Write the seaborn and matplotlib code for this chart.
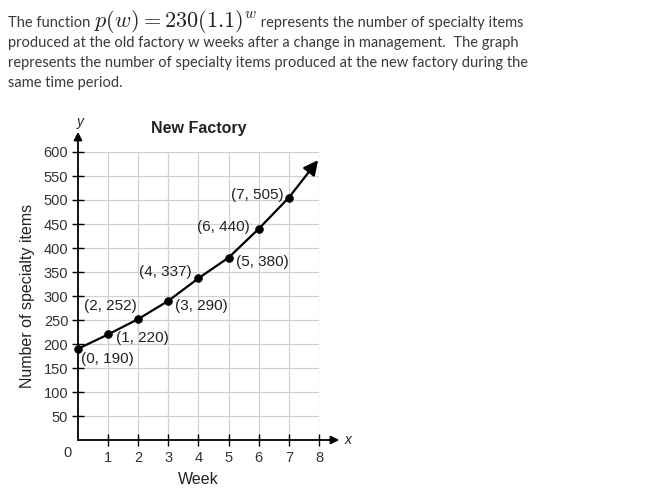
import matplotlib
matplotlib.use("Agg")
import matplotlib.pyplot as plt
import seaborn as sns
import pandas as pd

# data
weeks = [0, 1, 2, 3, 4, 5, 6, 7]
items = [190, 220, 252, 290, 337, 380, 440, 505]
curve_tip = (7.97, 583)
x_ticks = [1, 2, 3, 4, 5, 6, 7, 8]
y_ticks = list(range(50, 601, 50))
# label offsets in pixels (dx, dy, ha)
label_pos = [(3, -10, 'left'), (8, -4, 'left'), (-2, 13, 'right'), (7, -5, 'left'),
             (-7, 6, 'right'), (7, -4, 'left'), (-9, 2, 'right'), (-5, 3, 'right')]

intro_lines = [
    "produced at the old factory w weeks after a change in management.  The graph",
    "represents the number of specialty items produced at the new factory during the",
    "same time period.",
]

sns.set_style("white")
plt.rcParams['font.family'] = ['Liberation Sans', 'DejaVu Sans']
plt.rcParams['mathtext.fontset'] = 'cm'

df = pd.DataFrame({"week": weeks, "items": items})

fig = plt.figure(figsize=(6.52, 4.94), dpi=100)

# question text
txt_kw = dict(family=['Lato', 'DejaVu Sans'], fontsize=10.5, color='#3a3a3a')
ax0 = fig.add_axes([0, 0, 1, 1])
ax0.axis('off')
t1 = fig.text(8 / 652, 1 - 27 / 494, "The function ", va='baseline', **txt_kw)
a1 = ax0.annotate(r"$p(w) = 230(1.1)^{w}$", xy=(1, 0), xycoords=(t1, t1),
                  xytext=(0, 3), textcoords='offset pixels', va='baseline',
                  fontsize=16, color='#222222')
ax0.annotate(" represents the number of specialty items", xy=(1, 0), xycoords=(a1, t1),
             va='bottom', **txt_kw)
for i, line in enumerate(intro_lines):
    fig.text(8 / 652, 1 - (47 + 20 * i) / 494, line, va='baseline', **txt_kw)

# chart
ax = fig.add_axes([78 / 652, 54 / 494, 241 / 652, 288 / 494])
ax.set_xlim(0, 8)
ax.set_ylim(0, 600)
for s in ax.spines.values():
    s.set_visible(False)
ax.set_xticks(x_ticks)
ax.set_yticks(y_ticks)
ax.grid(True, color='#d0d0d0', lw=0.9)
ax.tick_params(bottom=True, left=True, direction='inout', length=8, width=1,
               color='black', labelsize=10.5, labelcolor='#333333', pad=3)
ax.tick_params(axis='x', pad=4)

# axes arrows
arrow = dict(arrowstyle='-|>', color='black', lw=1.3, mutation_scale=12,
             shrinkA=0, shrinkB=0)
ax.annotate('', xy=(8.67, 0), xytext=(0, 0), arrowprops=arrow, annotation_clip=False)
ax.annotate('', xy=(0, 642), xytext=(0, 0), arrowprops=arrow, annotation_clip=False)
ax.annotate('x', xy=(8.67, 0), xytext=(5, 0), textcoords='offset pixels',
            va='center', ha='left', fontsize=10, style='italic', annotation_clip=False)
ax.annotate('y', xy=(0, 642), xytext=(2, 10), textcoords='offset pixels',
            va='center', ha='center', fontsize=10, style='italic', annotation_clip=False)
ax.annotate('0', xy=(0, 0), xytext=(-11, -13), textcoords='offset pixels',
            va='center', ha='center', fontsize=10.5, color='#333333', annotation_clip=False)

sns.lineplot(data=df, x="week", y="items", color='black', lw=1.6, ax=ax, clip_on=False)
ax.annotate('', xy=curve_tip, xytext=(weeks[-1], items[-1]),
            arrowprops=dict(arrowstyle='-|>', color='black', lw=1.6,
                            mutation_scale=22, shrinkA=0, shrinkB=0),
            annotation_clip=False)
sns.scatterplot(data=df, x="week", y="items", color='black', s=32, ax=ax,
                edgecolor='black', zorder=5, clip_on=False)

for w, v, (dx, dy, ha) in zip(weeks, items, label_pos):
    ax.annotate(f"({w}, {v})", xy=(w, v), xytext=(dx, dy), textcoords='offset pixels',
                ha=ha, va='center', fontsize=11, color='#222222',
                annotation_clip=False)

ax.set_title("New Factory", fontsize=11.5, fontweight='bold', color='#222222', pad=14)
ax.set_xlabel("Week", fontsize=11.5, color='#222222', labelpad=5)
ax.set_ylabel("Number of specialty items", fontsize=11.5, color='#222222', labelpad=6)

fig.savefig("out.png", dpi=100)
